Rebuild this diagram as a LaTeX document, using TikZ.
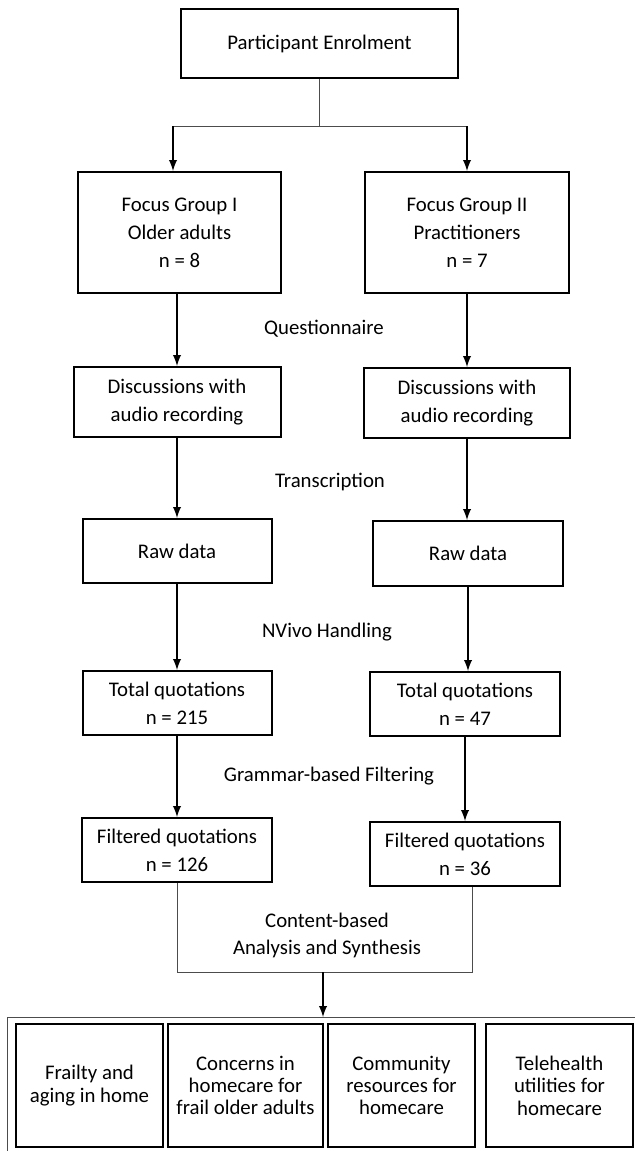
\documentclass[tikz,border=0pt]{standalone}
\usepackage{fontspec}
\setmainfont{Carlito}
\usetikzlibrary{arrows,positioning}
\tikzset{%
	stage/.style     = {draw, rectangle, line width=1pt, align=center, inner sep=1pt, font=\fontsize{10.4}{14}\selectfont},
	theme/.style     = {draw, rectangle, line width=1pt, align=center, inner sep=1pt, minimum width=73.5pt, minimum height=61.5pt, font=\fontsize{10.4}{11.2}\selectfont},
	steplabel/.style = {align=center, inner sep=0pt, font=\fontsize{10.4}{13.5}\selectfont},
	arrow/.style     = {line width=0.9pt,-latex},
	link/.style      = {line width=0.5pt, black!70},
}

\begin{document}
\begin{tikzpicture}[x=0.5pt,y=-0.5pt]
	\useasboundingbox (0,0) rectangle (635,1151);
	
	% enrolment and the two groups
	\node[stage, minimum width=138.5pt, minimum height=34.5pt] (enrol) at (319.5,43.5) {Participant Enrolment};
	\node[stage, minimum width=101.5pt, minimum height=60.5pt] (fgI) at (179.5,232.5) {Focus Group I\\Older adults\\n = 8};
	\node[stage, minimum width=102pt, minimum height=60.5pt] (fgII) at (467,232.5) {Focus Group II\\Practitioners\\n = 7};
	
	\coordinate (splitL) at (173,126);
	\coordinate (splitR) at (467,126);
	\draw[link] (enrol.south) -- (enrol.south |- splitL);
	\draw[link] (splitL) -- (splitR);
	\draw[arrow] (splitL) -- (splitL |- fgI.north);
	\draw[arrow] (splitR) -- (splitR |- fgII.north);
	
	% left column
	\node[stage, minimum width=103.5pt, minimum height=35pt] (discL) at (177,402) {Discussions with\\audio recording};
	\node[stage, minimum width=94.5pt, minimum height=32pt] (rawL) at (177,551) {Raw data};
	\node[stage, minimum width=94.5pt, minimum height=32pt] (totL) at (177,703) {Total quotations\\n = 215};
	\node[stage, minimum width=95pt, minimum height=32pt] (filtL) at (177,850) {Filtered quotations\\n = 126};
	
	% right column
	\node[stage, minimum width=103pt, minimum height=35pt] (discR) at (467,403) {Discussions with\\audio recording};
	\node[stage, minimum width=95pt, minimum height=32.5pt] (rawR) at (468,553.5) {Raw data};
	\node[stage, minimum width=95pt, minimum height=32pt] (totR) at (465,704) {Total quotations\\n = 47};
	\node[stage, minimum width=95pt, minimum height=32pt] (filtR) at (465,854) {Filtered quotations\\n = 36};
	
	% step labels
	\node[steplabel] (quest) at (324,329) {Questionnaire};
	\node[steplabel] (transc) at (330,482) {Transcription};
	\node[steplabel] (nvivo) at (327,632) {NVivo Handling};
	\node[steplabel] (grammar) at (329,776) {Grammar-based Filtering};
	\node[steplabel] (synth) at (327,935) {Content-based\\Analysis and Synthesis};
	
	\draw[arrow] (discL.north |- fgI.south) -- (discL.north);
	\draw[arrow] (discL.south) -- (discL.south |- rawL.north);
	\draw[arrow] (rawL.south) -- (rawL.south |- totL.north);
	\draw[arrow] (totL.south) -- (totL.south |- filtL.north);
	
	\draw[arrow] (fgII.south) -- (fgII.south |- discR.north);
	\draw[arrow] (discR.south) -- (discR.south |- rawR.north);
	\draw[arrow] (rawR.south) -- (rawR.south |- totR.north);
	\draw[arrow] (totR.south) -- (totR.south |- filtR.north);
	
	% merge into the themes
	\coordinate (ubot) at (323,972);
	\coordinate (uR) at (472,972);
	\coordinate (frametop) at (323,1017);
	\draw[link] (filtL.south) -- (filtL.south |- ubot) -- (uR) -- (uR |- filtR.south);
	\draw[arrow] (ubot) -- (frametop);
	\draw[link] (7,1017) rectangle (660,1170);
	
	\node[theme] (frailty) at (89.5,1085.5) {Frailty and\\aging in home};
	\node[theme, minimum width=77.5pt] (concerns) at (245.5,1085.5) {Concerns in\\homecare for\\frail older adults};
	\node[theme] (community) at (401.5,1085.5) {Community\\resources for\\homecare};
	\node[theme] (telehealth) at (559.5,1085.5) {Telehealth\\utilities for\\homecare};
\end{tikzpicture}
\end{document}
